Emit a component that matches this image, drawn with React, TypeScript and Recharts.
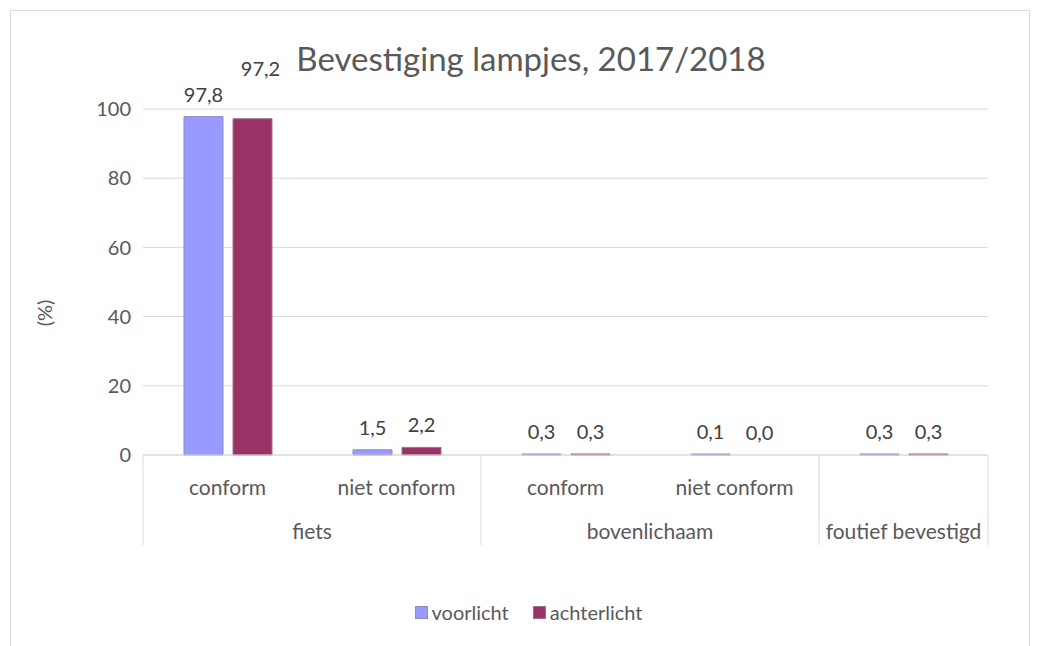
import { BarChart, Bar, XAxis, YAxis, CartesianGrid, Legend, LabelList, Cell } from 'recharts'

const categories = ['conform', 'niet conform', 'conform', 'niet conform', '']
const groups = ['fiets', 'fiets', 'bovenlichaam', 'bovenlichaam', 'foutief bevestigd']
const voorlicht = [97.8, 1.5, 0.3, 0.1, 0.3]
const achterlicht = [97.2, 2.2, 0.3, 0.0, 0.3]
const yTicks = [0, 20, 40, 60, 80, 100]

const data = categories.map((name, i) => ({
  name,
  group: groups[i],
  voorlicht: voorlicht[i],
  achterlicht: achterlicht[i],
}))

const W = 1024
const H = 638
const margin = { top: 101, right: 44, left: 75, bottom: 19 }
const yAxisWidth = 60
const plotLeft = margin.left + yAxisWidth
const plotBottom = 447
const slot = (W - plotLeft - margin.right) / categories.length

const FONT = 'Lato, sans-serif'
const TEXT = '#595959'
const LINE = '#d9d9d9'

const series = [
  { key: 'voorlicht', color: '#9999FF', border: '#8c8cc8', lift: -1 },
  { key: 'achterlicht', color: '#993366', border: '#a0708a', lift: 0 },
]

const fmt = (v: number) => v.toFixed(1).replace('.', ',')

function CategoryTick(props: any) {
  const { x, index } = props
  const group = groups[index]
  const isStart = index === 0 || groups[index - 1] !== group
  const isLast = index === categories.length - 1
  let span = 0
  while (index + span < groups.length && groups[index + span] === group) span++
  return (
    <g>
      <text x={x} y={plotBottom + 31} textAnchor="middle" dominantBaseline="central" fill={TEXT} fontSize={21} fontFamily={FONT}>
        {categories[index]}
      </text>
      {isStart && (
        <>
          <line x1={x - slot / 2} x2={x - slot / 2} y1={plotBottom} y2={plotBottom + 90} stroke={LINE} />
          <text
            x={x + ((span - 1) * slot) / 2}
            y={plotBottom + 75}
            textAnchor="middle"
            dominantBaseline="central"
            fill={TEXT}
            fontSize={21}
            fontFamily={FONT}
          >
            {group}
          </text>
        </>
      )}
      {isLast && <line x1={x + slot / 2} x2={x + slot / 2} y1={plotBottom} y2={plotBottom + 90} stroke={LINE} />}
    </g>
  )
}

// Excel nudged the overlapping 97,2 label up and to the right
const makeLabel = (liftIndex: number) => (props: any) => {
  const { x, y, width, height, value, index } = props
  const lifted = index === liftIndex
  const top = Math.min(y, y + height)
  return (
    <text
      x={x + width / 2 + (lifted ? 8 : 0)}
      y={(value === 0 ? plotBottom : top) - 23 - (lifted ? 28 : 0)}
      textAnchor="middle"
      dominantBaseline="central"
      fill="#404040"
      fontSize={20}
      fontFamily={FONT}
    >
      {fmt(value)}
    </text>
  )
}

function LegendContent() {
  return (
    <div style={{ display: 'flex', justifyContent: 'center', gap: 24, height: 30, alignItems: 'center', fontFamily: FONT, fontSize: 20, color: TEXT, paddingRight: 14 }}>
      {series.map((s) => (
        <div key={s.key} style={{ display: 'flex', alignItems: 'center', gap: 4 }}>
          <span style={{ display: 'inline-block', width: 11, height: 11, background: s.color, border: `1px solid ${s.border}` }} />
          <span>{s.key}</span>
        </div>
      ))}
    </div>
  )
}

function YLabel(props: any) {
  const vb = props.viewBox || { y: margin.top, height: plotBottom - margin.top }
  const cx = 36
  const cy = vb.y + vb.height / 2 + 31
  return (
    <text x={cx} y={cy} transform={`rotate(-90 ${cx} ${cy})`} textAnchor="middle" dominantBaseline="central" fill={TEXT} fontSize={20} fontFamily={FONT}>
      (%)
    </text>
  )
}

export default function App() {
  return (
    <div style={{ position: 'relative', width: W, height: H, overflow: 'hidden', background: '#fff' }}>
      <div style={{ position: 'absolute', left: 2, top: 2, width: 1020, height: 700, border: `1px solid ${LINE}`, boxSizing: 'border-box' }} />
      <div
        style={{
          position: 'absolute',
          left: 0,
          width: W,
          top: 30,
          lineHeight: '40px',
          textAlign: 'center',
          fontFamily: FONT,
          fontSize: 33,
          color: TEXT,
          paddingLeft: 22,
          boxSizing: 'border-box',
        }}
      >
        Bevestiging lampjes, 2017/2018
      </div>
      <BarChart width={W} height={H} data={data} margin={margin} barSize={39} barGap={10} style={{ position: 'absolute', left: 0, top: 0 }}>
        <CartesianGrid vertical={false} stroke={LINE} />
        <XAxis
          dataKey="name"
          height={142}
          interval={0}
          tickLine={false}
          axisLine={{ stroke: LINE }}
          tick={<CategoryTick />}
        />
        <YAxis
          width={yAxisWidth}
          domain={[0, 100]}
          ticks={yTicks}
          axisLine={false}
          tickLine={false}
          tick={{ fill: TEXT, fontSize: 20, fontFamily: FONT }}
          tickMargin={6}
          label={<YLabel />}
        />
        <Legend verticalAlign="bottom" content={<LegendContent />} />
        {series.map((s) => (
          <Bar key={s.key} dataKey={s.key} fill={s.color} stroke={s.border} minPointSize={1} isAnimationActive={false}>
            {data.map((d, i) => (
              <Cell key={i} fill={(d as any)[s.key] === 0 ? 'none' : s.color} stroke={(d as any)[s.key] === 0 ? 'none' : s.border} />
            ))}
            <LabelList dataKey={s.key} content={makeLabel(s.lift)} />
          </Bar>
        ))}
      </BarChart>
    </div>
  )
}
